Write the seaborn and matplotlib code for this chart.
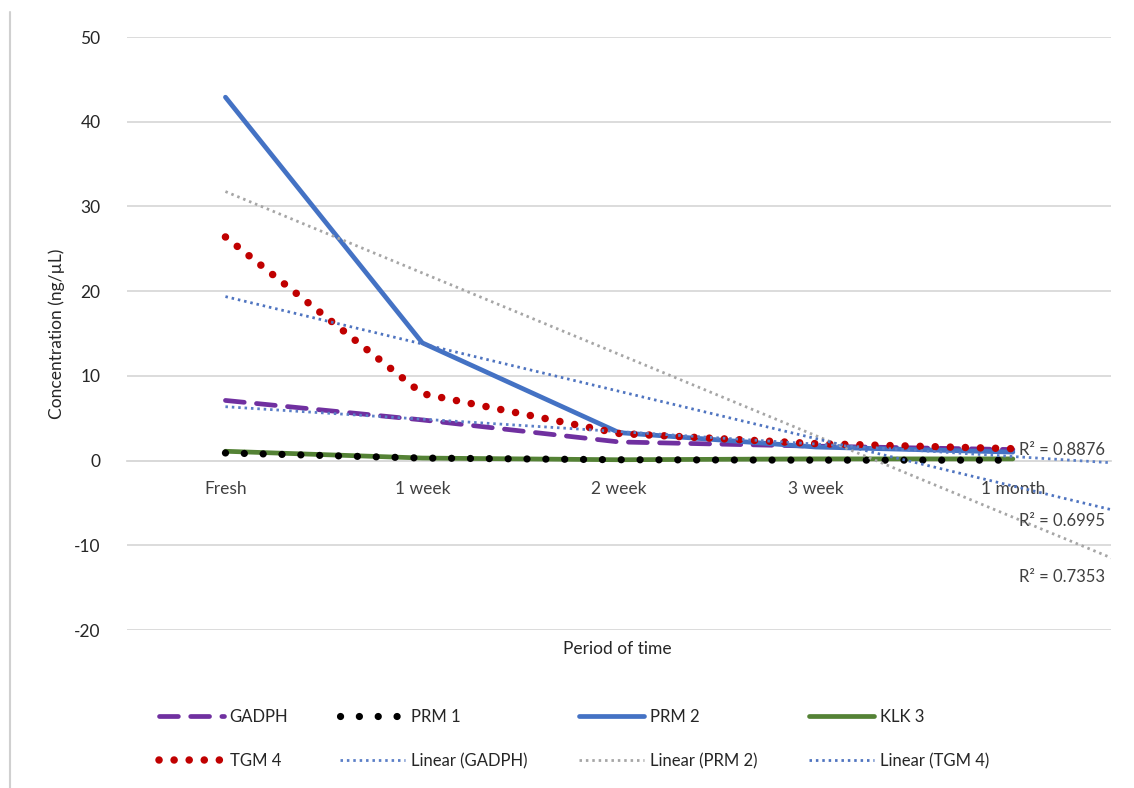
import numpy as np
import pandas as pd
import matplotlib
matplotlib.use("Agg")
import matplotlib.pyplot as plt
import seaborn as sns
from matplotlib.lines import Line2D

# ---- data ----
periods = ["Fresh", "1 week", "2 week", "3 week", "1 month"]
gadph = [7.1, 4.8, 2.2, 1.7, 1.3]
prm1 = [0.9, 0.3, 0.1, 0.05, 0.05]
prm2 = [42.9, 13.9, 3.3, 1.6, 1.0]
klk3 = [1.1, 0.3, 0.1, 0.2, 0.2]
tgm4 = [26.4, 7.9, 3.2, 2.0, 1.4]
r2_gadph = "R² = 0.8876"
r2_tgm4 = "R² = 0.6995"
r2_prm2 = "R² = 0.7353"
y_ticks = [-20, -10, 0, 10, 20, 30, 40, 50]

sns.set_theme(style="white")
plt.rcParams["font.family"] = ["Lato", "DejaVu Sans"]
plt.rcParams["axes.unicode_minus"] = False

fig = plt.figure(figsize=(11.34, 7.88), dpi=100)
ax = fig.add_axes([0.112, 0.2005, 0.868, 0.7525])

xpos = np.arange(len(periods))
df = pd.DataFrame({"x": xpos, "GADPH": gadph, "PRM 1": prm1, "PRM 2": prm2,
                   "KLK 3": klk3, "TGM 4": tgm4})

styles = {
    "GADPH": dict(color="#7030A0", lw=3.4, dashes=(4, 2.6), z=3),
    "KLK 3": dict(color="#548235", lw=3.4, z=4),
    "PRM 1": dict(color="#000000", lw=5.2, dashes=(0.01, 2.6), z=5),
    "PRM 2": dict(color="#4472C4", lw=3.4, z=6),
    "TGM 4": dict(color="#C00000", lw=5.4, dashes=(0.01, 2.0), z=7),
}
handles = {}
for name in ["GADPH", "KLK 3", "PRM 1", "PRM 2", "TGM 4"]:
    st = styles[name]
    sns.lineplot(data=df, x="x", y=name, ax=ax, color=st["color"],
                 linewidth=st["lw"], zorder=st["z"])
    line = ax.lines[-1]
    if "dashes" in st:
        line.set_dashes(st["dashes"])
        line.set_dash_capstyle("round")
    handles[name] = line

# trendlines (linear fit, forward forecast 0.5 period)
xt = np.array([0, len(periods) - 0.5])
trend_colors = {"GADPH": "#5B7FC7", "PRM 2": "#A6A6A6", "TGM 4": "#4F74C0"}
trend_handles = {}
for name, vals in [("GADPH", gadph), ("PRM 2", prm2), ("TGM 4", tgm4)]:
    k, b = np.polyfit(xpos, vals, 1)
    sns.lineplot(x=xt, y=k * xt + b, ax=ax, color=trend_colors[name], linewidth=2.0, zorder=9)
    ln = ax.lines[-1]
    ln.set_dashes((0.9, 1.4))
    trend_handles[name] = ln

ax.set_xlim(-0.5, len(periods) - 0.5)
ax.set_ylim(-20, 50)
ax.set_yticks(y_ticks)
ax.set_xticks(xpos)
ax.set_xticklabels(periods)
ax.yaxis.grid(True, color="#D9D9D9", linewidth=1.3)
ax.xaxis.grid(False)
for s in ["top", "right", "left"]:
    ax.spines[s].set_visible(False)
ax.spines["bottom"].set_position(("data", 0))
ax.spines["bottom"].set_color("#D9D9D9")
ax.spines["bottom"].set_linewidth(1.3)
ax.tick_params(axis="x", length=0, pad=15, labelsize=12.5, labelcolor="#404040")
ax.tick_params(axis="y", length=0, pad=19, labelsize=12.5, labelcolor="#262626")

ax.set_xlabel("Period of time", fontsize=12.5, color="#262626")
ax.xaxis.set_label_coords(0.498, -0.018)
ax.set_ylabel("Concentration (ng/µL)", fontsize=12.5, color="#262626")
ax.yaxis.set_label_coords(-0.063, 0.5)

ax.text(4.47, 1.3, r2_gadph, ha="right", va="center", fontsize=12, color="#404040", zorder=10)
ax.text(4.47, -7.1, r2_tgm4, ha="right", va="center", fontsize=12, color="#404040", zorder=10)
ax.text(4.47, -13.8, r2_prm2, ha="right", va="center", fontsize=12, color="#404040", zorder=10)

# legend (row-major order via column filling)
order = [
    (handles["GADPH"], "GADPH"), (handles["TGM 4"], "TGM 4"),
    (handles["PRM 1"], "PRM 1"), (trend_handles["GADPH"], "Linear (GADPH)"),
    (handles["PRM 2"], "PRM 2"), (trend_handles["PRM 2"], "Linear (PRM 2)"),
    (handles["KLK 3"], "KLK 3"), (trend_handles["TGM 4"], "Linear (TGM 4)"),
]
leg = fig.legend([h for h, _ in order], [l for _, l in order], ncol=4,
                 loc="center", bbox_to_anchor=(574 / 1134, 1 - 739 / 788),
                 frameon=False, fontsize=12, handlelength=3.9, handletextpad=0.35,
                 columnspacing=3.1, labelspacing=1.7)
for t in leg.get_texts():
    t.set_color("#262626")

fig.add_artist(Line2D([10 / 1134, 10 / 1134], [0, 1 - 12 / 788],
                      transform=fig.transFigure, color="#D0D0D0", linewidth=1.5))

fig.savefig("out.png", dpi=100)
